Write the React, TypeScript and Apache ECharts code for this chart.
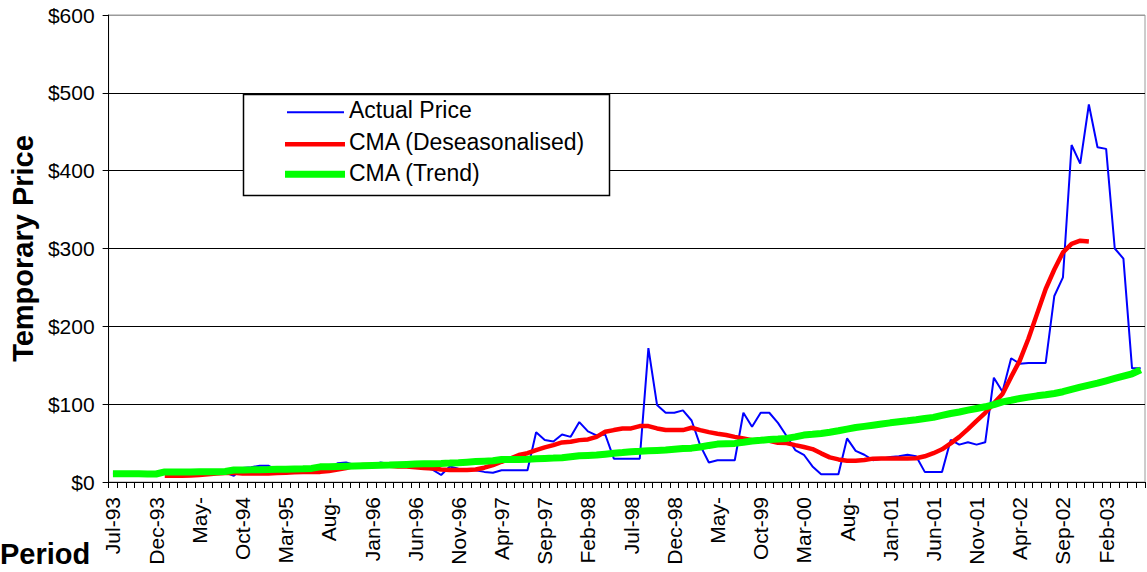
import React, { useEffect, useRef } from "react";
import * as echarts from "echarts";

const categories = [
  "Jul-93","Aug-93","Sep-93","Oct-93","Nov-93","Dec-93",
  "Jan-94","Feb-94","Mar-94","Apr-94","May-94","Jun-94","Jul-94","Aug-94","Sep-94","Oct-94","Nov-94","Dec-94",
  "Jan-95","Feb-95","Mar-95","Apr-95","May-95","Jun-95","Jul-95","Aug-95","Sep-95","Oct-95","Nov-95","Dec-95",
  "Jan-96","Feb-96","Mar-96","Apr-96","May-96","Jun-96","Jul-96","Aug-96","Sep-96","Oct-96","Nov-96","Dec-96",
  "Jan-97","Feb-97","Mar-97","Apr-97","May-97","Jun-97","Jul-97","Aug-97","Sep-97","Oct-97","Nov-97","Dec-97",
  "Jan-98","Feb-98","Mar-98","Apr-98","May-98","Jun-98","Jul-98","Aug-98","Sep-98","Oct-98","Nov-98","Dec-98",
  "Jan-99","Feb-99","Mar-99","Apr-99","May-99","Jun-99","Jul-99","Aug-99","Sep-99","Oct-99","Nov-99","Dec-99",
  "Jan-00","Feb-00","Mar-00","Apr-00","May-00","Jun-00","Jul-00","Aug-00","Sep-00","Oct-00","Nov-00","Dec-00",
  "Jan-01","Feb-01","Mar-01","Apr-01","May-01","Jun-01","Jul-01","Aug-01","Sep-01","Oct-01","Nov-01","Dec-01",
  "Jan-02","Feb-02","Mar-02","Apr-02","May-02","Jun-02","Jul-02","Aug-02","Sep-02","Oct-02","Nov-02","Dec-02",
  "Jan-03","Feb-03","Mar-03","Apr-03","May-03","Jun-03",
];

const actualPrice = [
  11, 11, 11, 11, 11, 11, 13, 13, 13, 13,
  13, 13, 13, 12, 8, 18, 19, 21, 21, 15,
  11, 13, 14, 14, 13, 15, 24, 25, 22, 22,
  22, 25, 23, 22, 22, 22, 18, 16, 9, 20,
  17, 16, 15, 13, 12, 15, 15, 15, 15, 64,
  54, 52, 61, 58, 77, 65, 60, 61, 30, 30,
  30, 30, 172, 99, 89, 89, 92, 79, 47, 25,
  28, 28, 28, 89, 71, 89, 89, 76, 59, 41,
  35, 20, 10, 10, 10, 56, 40, 35, 28, 30,
  32, 33, 35, 33, 13, 13, 13, 54, 48, 51,
  48, 51, 134, 116, 159, 152, 153, 153, 153, 239,
  263, 433, 409, 485, 430, 428, 300, 287, 146, 146,
];

const cmaDeseasonalised = [
  null, null, null, null, null, null, 8, 8, 8, 8.5,
  9, 10, 11, 11.5, 12, 11, 11, 11, 11, 11.5,
  12, 12.5, 13, 13, 13, 14, 16, 18, 21, 22,
  22, 22, 21, 20, 20, 19, 18, 17.5, 16, 15.5,
  15.4, 15.4, 16, 18.4, 21.8, 26, 30, 34.6, 37, 41,
  44.4, 47.4, 50.9, 51.7, 53.8, 54.7, 58, 64.5, 66.7, 68.8,
  68.8, 71.8, 71.8, 68.8, 66.7, 66.7, 66.7, 69.7, 66.7, 64.1,
  62, 60.3, 58, 56, 53.8, 54, 53, 50.4, 50, 47.4,
  45, 42.3, 36.8, 31.6, 29, 27.4, 27.4, 28.2, 30, 30.3,
  30.3, 30.3, 30.3, 30.5, 33, 37, 42, 49.6, 58, 68,
  78.6, 88.9, 101, 113, 135, 156, 184, 216, 248, 273,
  295, 306, 310, 309, null, null, null, null, null, null,
];

const cmaTrend = [
  10.5, 10.5, 10.5, 10.5, 10.3, 10.3, 13, 13, 13, 13,
  13.2, 13.2, 13.3, 13.5, 15.4, 15.5, 15.6, 15.8, 16, 16.3,
  16.5, 16.8, 17, 17.5, 19.5, 19.7, 20, 20.3, 20.6, 20.9,
  21.2, 21.5, 21.8, 22.2, 22.6, 23, 23.3, 23.6, 23.9, 24.3,
  24.8, 25.5, 26.2, 26.8, 27.4, 29, 29, 29, 29.3, 29.8,
  30.3, 30.7, 31.2, 32.5, 33.8, 34.2, 34.6, 35.7, 36.8, 37.8,
  38.9, 39.5, 40.2, 40.6, 41, 42, 43, 43.5, 45, 47,
  48.7, 49.2, 49.6, 51, 52.6, 53.6, 54.7, 55.3, 56, 58,
  60.3, 61.3, 62.4, 64, 65.8, 68, 70, 71.5, 73, 74.5,
  76, 77.3, 78.6, 80, 81.6, 83, 85.5, 88, 90, 92.3,
  94.5, 96.6, 99.5, 103, 105, 107.3, 109, 110.7, 112, 113.7,
  116, 119, 122, 124.5, 127, 130, 133, 136, 139, 144,
];

const seriesNames = ["Actual Price", "CMA (Deseasonalised)", "CMA (Trend)"];
const seriesColors = ["#0000ff", "#ff0000", "#00ff00"];
const seriesWidths = [2, 4.5, 7];
const yAxisTitle = "Temporary Price";
const xAxisTitle = "Period";

const FONT = "'Liberation Sans', Arial, Helvetica, sans-serif";

export default function App() {
  const ref = useRef<HTMLDivElement>(null);

  useEffect(() => {
    if (!ref.current) return;
    const chart = echarts.init(ref.current, null, { renderer: "svg" });

    // Legend drawn as graphic elements (box, line samples, labels)
    const legendBox = { x: 243.5, y: 94.5, w: 366, h: 101 };
    const lineY = [112.3, 144.3, 174.3];
    const textY = [110, 141.5, 173];
    const lineX = [[287, 344], [285, 345], [285, 345]];
    const legendGraphics: any[] = [
      {
        type: "rect",
        z: 100,
        shape: { x: legendBox.x, y: legendBox.y, width: legendBox.w, height: legendBox.h },
        style: { fill: "#ffffff", stroke: "#000000", lineWidth: 1.5 },
      },
    ];
    seriesNames.forEach((name, i) => {
      legendGraphics.push({
        type: "line",
        z: 101,
        shape: { x1: lineX[i][0], y1: lineY[i], x2: lineX[i][1], y2: lineY[i] },
        style: { stroke: seriesColors[i], lineWidth: seriesWidths[i] },
      });
      legendGraphics.push({
        type: "text",
        z: 101,
        x: 349,
        y: textY[i],
        style: {
          text: name,
          fontSize: 23,
          fill: "#000",
          fontFamily: FONT,
          verticalAlign: "middle",
          align: "left",
        },
      });
    });

    chart.setOption({
      animation: false,
      backgroundColor: "#ffffff",
      textStyle: { fontFamily: FONT },
      grid: { left: 107, top: 15, right: 2, bottom: 90, show: true, borderColor: "#9a9a9a", borderWidth: 1 },
      legend: { show: false, data: seriesNames },
      xAxis: {
        type: "category",
        data: categories,
        boundaryGap: true,
        axisLine: { lineStyle: { color: "#000", width: 1 } },
        axisTick: { show: true, interval: 0, length: 6, lineStyle: { color: "#000" } },
        axisLabel: {
          interval: 4,
          rotate: 90,
          margin: 15,
          fontSize: 21,
          color: "#000",
          fontFamily: FONT,
          formatter: (v: string) => (v.startsWith("May") || v.startsWith("Aug") ? v.slice(0, 4) : v),
        },
        splitLine: { show: false },
      },
      yAxis: {
        type: "value",
        min: 0,
        max: 600,
        interval: 100,
        name: yAxisTitle,
        nameLocation: "middle",
        nameGap: 70,
        nameTextStyle: { fontSize: 29, fontWeight: "bold", color: "#000", fontFamily: FONT },
        axisLine: { show: true, lineStyle: { color: "#000", width: 1 } },
        axisTick: { show: true, length: 6, lineStyle: { color: "#000" } },
        axisLabel: { fontSize: 21, color: "#000", margin: 14, fontFamily: FONT, formatter: (v: number) => "$" + v },
        splitLine: {
          show: true,
          lineStyle: { color: ["#000", "#000", "#000", "#000", "#000", "#000", "#9a9a9a"], width: 1 },
        },
      },
      graphic: [
        {
          type: "text",
          left: 0,
          top: 539,
          style: { text: xAxisTitle, fontSize: 29, fontWeight: "bold", fill: "#000", fontFamily: FONT },
        },
        ...legendGraphics,
      ],
      series: seriesNames.map((name, i) => ({
        name,
        type: "line",
        data: [actualPrice, cmaDeseasonalised, cmaTrend][i],
        symbol: "none",
        lineStyle: { color: seriesColors[i], width: seriesWidths[i] },
        itemStyle: { color: seriesColors[i] },
        z: 2 + i,
      })),
    });
    return () => chart.dispose();
  }, []);

  return (
    <div
      ref={ref}
      style={{ position: "fixed", left: 0, top: 0, width: 1147, height: 572, background: "#fff" }}
    />
  );
}
